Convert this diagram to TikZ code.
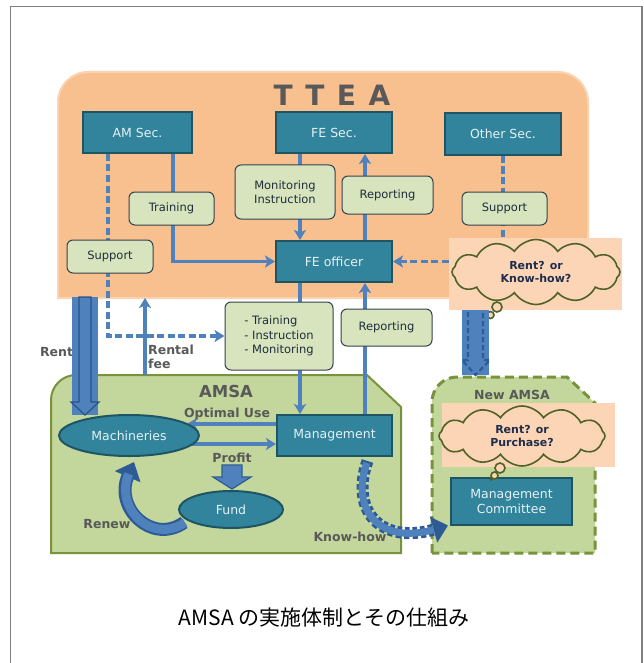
\documentclass[tikz,border=0pt]{standalone}
\usepackage{fontspec}
\setmainfont{DejaVu Sans}
\newfontfamily\jpfont{Noto Sans CJK JP}
\usetikzlibrary{arrows.meta,shapes.symbols,shapes.geometric,calc}

\definecolor{tteafill}{HTML}{F9C08F}
\definecolor{tteaedge}{HTML}{FBD3B0}
\definecolor{tealfill}{HTML}{31849B}
\definecolor{tealedge}{HTML}{1F5563}
\definecolor{tealtext}{HTML}{E4F1F5}
\definecolor{notefill}{HTML}{D7E4BD}
\definecolor{noteedge}{HTML}{34414F}
\definecolor{notetext}{HTML}{1F2D3D}
\definecolor{flow}{HTML}{4F81BD}
\definecolor{flowdark}{HTML}{2F5B94}
\definecolor{amsafill}{HTML}{C3D69B}
\definecolor{amsaedge}{HTML}{77933C}
\definecolor{labelgray}{HTML}{595959}
\definecolor{cloudfill}{HTML}{FBD5B5}
\definecolor{cloudedge}{HTML}{4F6228}
\definecolor{cloudtext}{HTML}{1F2D4D}
\definecolor{framegray}{HTML}{7F7F7F}

\pgfdeclarelayer{regions}
\pgfdeclarelayer{links}
\pgfsetlayers{regions,links,main}

\tikzset{
  tealbox/.style={draw=tealedge, line width=2pt, fill=tealfill, text=tealtext,
    font=\fontsize{12.5}{14.5}\selectfont, inner sep=0pt, align=center},
  notebox/.style={draw=noteedge, line width=1pt, fill=notefill, rounded corners=6pt,
    text=notetext, font=\fontsize{11.5}{14.5}\selectfont, inner sep=0pt, align=center},
  oval/.style={ellipse, draw=tealedge, line width=2pt, fill=tealfill, text=tealtext,
    font=\fontsize{12.5}{14.5}\selectfont, inner sep=0pt},
  flowline/.style={draw=flow, line width=3.2pt},
  dashline/.style={draw=flow, line width=3.2pt, dash pattern=on 7pt off 3.5pt},
  tip/.style={-{Stealth[length=10pt,width=12pt,inset=2.5pt]}},
  boldlabel/.style={text=labelgray, font=\fontsize{12.5}{14.5}\selectfont\bfseries, inner sep=0pt},
  thought/.style={cloud, cloud puffs=12, cloud puff arc=115, cloud ignores aspect,
    draw=cloudedge, line width=1.6pt,
    fill=cloudfill, text=cloudtext, font=\fontsize{11}{13.5}\selectfont\bfseries,
    align=center, inner sep=0pt},
  thoughtbox/.style={fill=cloudfill, inner sep=0pt},
  bubble/.style={circle, draw=cloudedge, line width=1.6pt, fill=cloudfill, inner sep=0pt},
  blockarrow/.style={fill=flow, draw=flowdark, line width=1.2pt},
}

\begin{document}
\begin{tikzpicture}[x=1pt,y=-1pt]
\useasboundingbox (0,0) rectangle (644,663);

% outer frame
\draw[framegray, line width=1.5pt] (10.5,663) -- (10.5,6.5) -- (642,6.5) -- (642,663);

% regions
\begin{pgfonlayer}{regions}
  \draw[fill=tteafill, draw=tteaedge, line width=2pt]
    (58,298) -- (58,102) arc[start angle=180,end angle=270,radius=30]
    -- (558,72) arc[start angle=270,end angle=360,radius=30] -- (588,298) -- cycle;
  \draw[fill=amsafill, draw=amsaedge, line width=2pt]
    (51,553) -- (51,400) arc[start angle=180,end angle=270,radius=25]
    -- (367,375) -- (401,407) -- (401,553) -- cycle;
  \draw[fill=amsafill, draw=amsaedge, line width=3pt, dash pattern=on 9pt off 5pt]
    (432,553) -- (432,402) arc[start angle=180,end angle=270,radius=25]
    -- (567,377) -- (595,403) -- (595,553) -- cycle;
  \coordinate (feebase) at (145,375);
  \coordinate (feetop) at (145,298);
\end{pgfonlayer}

% titles and labels
\node[text=labelgray, font=\fontsize{28}{30}\selectfont\bfseries] (ttea) at (332,95) {T\hspace{0.45em}T\hspace{0.45em}E\hspace{0.45em}A};
\node[boldlabel, font=\fontsize{16.5}{18}\selectfont\bfseries] (amsa) at (226,391) {AMSA};
\node[boldlabel] (newamsa) at (512,395) {New AMSA};
\node[boldlabel] (rentlbl) at (56.5,352) {Rent};
\node[boldlabel, anchor=west, align=left, font=\fontsize{12.5}{14.5}\selectfont\bfseries] (feelbl) at (148,357) {Rental\\fee};
\node[boldlabel] (optlbl) at (227,414) {Optimal Use};
\node[boldlabel] (profitlbl) at (232,458) {Profit};
\node[boldlabel] (renewlbl) at (107,524) {Renew};
\node[boldlabel] (knowlbl) at (350,537) {Know-how};

% offices
\node[tealbox, minimum width=109pt, minimum height=41pt] (amsec) at (137.5,132.5) {AM Sec.};
\node[tealbox, minimum width=116pt, minimum height=41pt] (fesec) at (334,132.5) {FE Sec.};
\node[tealbox, minimum width=116pt, minimum height=42pt] (othersec) at (503,134) {Other Sec.};
\node[tealbox, minimum width=116pt, minimum height=41pt] (feofficer) at (334,261.5) {FE officer};
\node[tealbox, minimum width=115pt, minimum height=41pt] (mgmt) at (334.5,435.5) {Management};
\node[tealbox, minimum width=121pt, minimum height=47pt] (mgmtcom) at (511.5,501.5) {Management\\Committee};

% notes on the links
\node[notebox, minimum width=85pt, minimum height=33pt] (training) at (171.5,208.5) {Training};
\node[notebox, minimum width=100pt, minimum height=54pt] (moninst) at (285,192) {Monitoring\\Instruction};
\node[notebox, minimum width=91pt, minimum height=38pt] (reptop) at (387.5,195) {Reporting};
\node[notebox, minimum width=85pt, minimum height=33pt] (supother) at (504.5,208.5) {Support};
\node[notebox, minimum width=86pt, minimum height=33pt] (supleft) at (110,256.5) {Support};
\node[notebox, minimum width=108pt, minimum height=68pt, align=left] (tim) at (279,336) {- Training\\- Instruction\\- Monitoring};
\node[notebox, minimum width=91pt, minimum height=37pt] (replow) at (386.5,327.5) {Reporting};

% machinery cycle
\node[oval, minimum width=140pt, minimum height=41pt] (machine) at (129,435.5) {Machineries};
\node[oval, minimum width=104pt, minimum height=37pt] (fund) at (231,509.5) {Fund};

% thought clouds
\node[thoughtbox, minimum width=173pt, minimum height=72pt] (cloudbox1) at (535.5,274) {};
\node[thought, minimum width=168pt, minimum height=65pt] (cloud1) at (536,272) {Rent? or\\Know-how?};
\node[bubble, minimum size=10pt] (b1a) at (497,307) {};
\node[bubble, minimum size=7pt] (b1b) at (490.5,315) {};
\node[circle, fill=cloudedge, minimum size=3.5pt, inner sep=0pt] (b1c) at (486.5,318.5) {};

\node[thoughtbox, minimum width=173pt, minimum height=64pt] (cloudbox2) at (528.5,435) {};
\node[thought, minimum width=166pt, minimum height=60pt] (cloud2) at (522,436) {Rent? or\\Purchase?};
\node[bubble, minimum size=10pt] (b2a) at (500,468) {};
\node[bubble, minimum size=7pt] (b2b) at (494.5,475.5) {};
\node[circle, fill=cloudedge, minimum size=3.5pt, inner sep=0pt] (b2c) at (491,479.5) {};

% rent arrows
\fill[flow] (72,297) rectangle (98,415);
\draw[blockarrow, draw=flowdark!90!black] (79,297) -- (91,297) -- (91,402) -- (99,402) -- (85,415) -- (71,402) -- (79,402) -- cycle;
\fill[flow] (462,310) rectangle (489,375);
\draw[flowdark, line width=2.2pt, dash pattern=on 5pt off 3pt]
  (468,312) -- (468,360) -- (462,360) -- (475.5,375) -- (490,360) -- (483,360) -- (483,312);

% profit arrow
\draw[blockarrow] (222,465) -- (242,465) -- (242,477) -- (251,477) -- (232,489) -- (213,477) -- (222,477) -- cycle;

% connectors
\begin{pgfonlayer}{links}
  \draw[flowline, tip] ($(amsec.south)+(35.5,0)$) |- (feofficer.west);
  \draw[dashline, tip] ($(amsec.south)+(-29.5,0)$) |- (tim.west);
  \draw[flowline, tip] ($(fesec.south)+(-34,0)$) -- ($(feofficer.north)+(-34,0)$);
  \draw[flowline, tip] ($(feofficer.north)+(31,0)$) -- ($(fesec.south)+(31,0)$);
  \draw[dashline] (othersec.south) -- (othersec.south |- cloud1.center);
  \draw[dashline, tip] (cloudbox1.west |- feofficer.east) -- (feofficer.east);
  \draw[flowline, tip] ($(feofficer.south)+(-34,0)$) -- ($(mgmt.north)+(-34.5,0)$);
  \draw[flowline, tip] ($(mgmt.north)+(30.5,0)$) -- ($(feofficer.south)+(31,0)$);
  \draw[flowline, tip] (feebase) -- (feetop);
  \draw[flowline, tip] ($(mgmt.west)+(0,-11.5)$) -- ($(machine.center)+(58,-11.5)$);
  \draw[flowline, tip] ($(machine.center)+(63,8.5)$) -- ($(mgmt.west)+(0,8.5)$);
  % renew loop
  \draw[draw=flowdark, line width=13pt, -{Triangle[length=16pt,width=27pt]}, color=flowdark]
    ($(fund.west)+(6,13)$) .. controls (152,545) and (114,508) .. ($(machine.south)+(5,5)$);
  \draw[draw=flow, line width=9pt, shorten >=13pt]
    ($(fund.west)+(7,13)$) .. controls (152,545) and (114,508) .. ($(machine.south)+(5,5)$);
  % know-how transfer
  \draw[flowdark, line width=12pt, dash pattern=on 5pt off 3pt, -{Triangle[length=15pt,width=26pt]}]
    ($(mgmt.south)+(33,4)$) .. controls (350,510) and (380,545) .. ($(mgmtcom.west)+(-2,24)$);
  \draw[flow, line width=7pt, shorten >=15pt, shorten <=2pt]
    ($(mgmt.south)+(33,4)$) .. controls (350,510) and (380,545) .. ($(mgmtcom.west)+(-2,24)$);
\end{pgfonlayer}

% caption
\node[font=\jpfont\fontsize{21}{24}\selectfont] (caption) at (324,618) {AMSA の実施体制とその仕組み};
\end{tikzpicture}
\end{document}
